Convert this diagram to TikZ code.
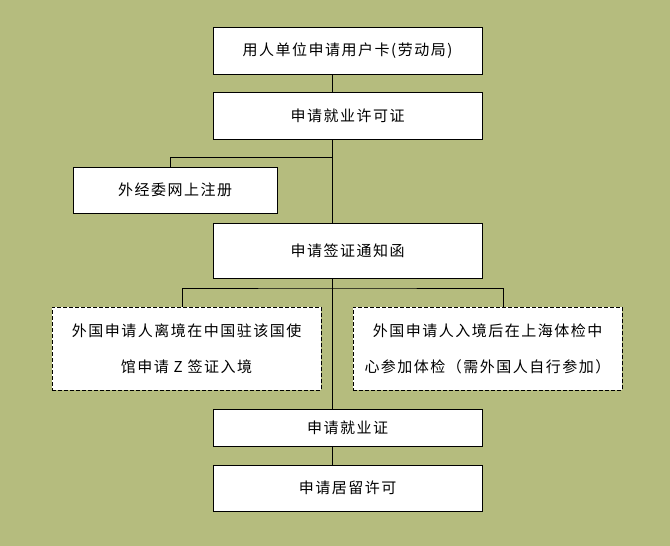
\documentclass[tikz,border=0pt]{standalone}
\usepackage{fontspec}
\setmainfont{Noto Sans CJK SC}[LetterSpace=10]
\usepackage{tikz}
\usetikzlibrary{positioning}
\definecolor{Olive}{RGB}{181,188,126}
\definecolor{Edge}{HTML}{000000}
\tikzset{
  stepbox/.style={rectangle, draw=Edge, line width=1pt, fill=white,
    minimum width=269pt, minimum height=47pt, inner sep=0pt, outer sep=0pt,
    align=center, font=\fontsize{15}{18}\selectfont},
  notebox/.style={stepbox, dash pattern=on 4pt off 2pt, minimum height=83pt,
    font=\fontsize{15}{36}\selectfont},
  link/.style={draw=Edge, line width=1pt}
}

\begin{document}
\begin{tikzpicture}[x=1pt, y=1pt]
  \fill[Olive] (0,0) rectangle (670,-546);
  \useasboundingbox (0,0) rectangle (670,-546);
  \coordinate (axis) at (332,0);
  \node[stepbox] (card) at (347.5,-50.5) {用人单位申请用户卡(劳动局)};
  \node[stepbox, below=18pt of card] (permit) {申请就业许可证};
  \node[stepbox, minimum width=204pt, minimum height=46pt] (register) at (175,-190) {外经委网上注册};
  \node[stepbox, minimum height=55pt, below=84pt of permit] (notice) {申请签证通知函};
  \node[notebox] (embassy) at (186.5,-348.5) {外国申请人离境在中国驻该国使\\馆申请 Z 签证入境};
  \node[notebox] (checkup) at (487.5,-348.5) {外国申请人入境后在上海体检中\\心参加体检（需外国人自行参加）};
  \node[stepbox, minimum height=37pt, below=131pt of notice] (work) {申请就业证};
  \node[stepbox, minimum height=46pt, below=19pt of work] (stay) {申请居留许可};
  \draw[link] (card.south -| axis) -- (permit.north -| axis);
  \draw[link] (permit.south -| axis) -- (notice.north -| axis);
  \draw[link] ([xshift=-5pt]register.north) |- ([yshift=-18pt]permit.south -| axis);
  \draw[link] ([xshift=-4.5pt]embassy.north) |- ([yshift=-10pt]notice.south -| axis) -| ([xshift=15.5pt]checkup.north);
  \draw[link] (notice.south -| axis) -- (work.north -| axis);
  \draw[link] (work.south -| axis) -- (stay.north -| axis);
\end{tikzpicture}
\end{document}
